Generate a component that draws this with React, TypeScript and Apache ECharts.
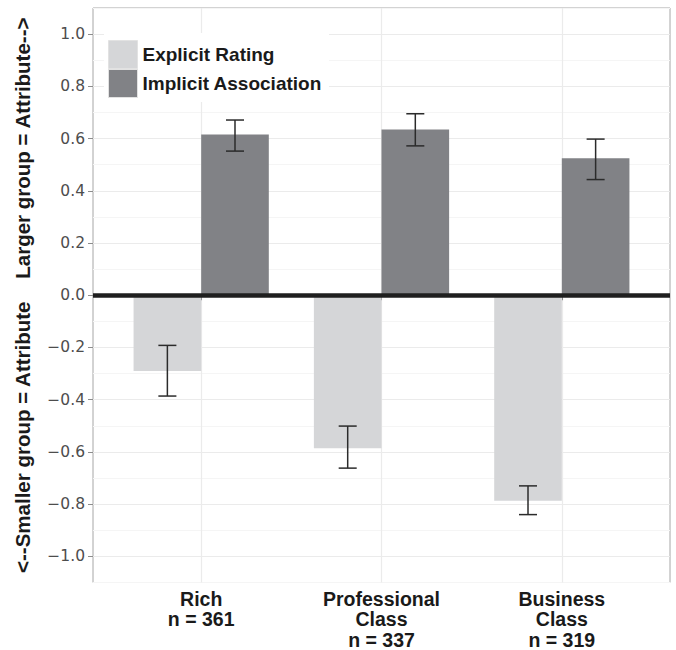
import React, { useEffect, useRef } from "react";
import * as echarts from "echarts";

// Group labels along the x axis, positioned at 1, 2, 3
const categories = ["Rich\nn = 361", "Professional\nClass\nn = 337", "Business\nClass\nn = 319"];
const positions = [1, 2, 3];

// Explicit rating: means with error bar bounds
const explicitMean = [-0.29, -0.586, -0.787];
const explicitLow = [-0.386, -0.662, -0.84];
const explicitHigh = [-0.192, -0.501, -0.73];

// Implicit association: means with error bar bounds
const implicitMean = [0.616, 0.635, 0.525];
const implicitLow = [0.552, 0.572, 0.443];
const implicitHigh = [0.671, 0.695, 0.598];

const seriesNames = ["Explicit Rating", "Implicit Association"];

const LIGHT = "#d5d6d8";
const DARK = "#818286";
const DODGE = 0.75; // total dodge width in category units
const CAP = 0.1; // error bar cap width in category units

function errorBars(low: number[], high: number[], shift: number) {
  return {
    type: "custom",
    silent: true,
    z: 4,
    data: positions.map((p, i) => [p, low[i], high[i]]),
    encode: { x: 0, y: [1, 2] },
    renderItem: (_params: any, api: any) => {
      const x = api.value(0) + shift;
      const top = api.coord([x, api.value(2)]);
      const bot = api.coord([x, api.value(1)]);
      const half = api.size([CAP, 0])[0] / 2;
      const style = { stroke: "#2b2b2b", lineWidth: 1.5 };
      return {
        type: "group",
        children: [
          { type: "line", shape: { x1: top[0], y1: top[1], x2: bot[0], y2: bot[1] }, style },
          { type: "line", shape: { x1: top[0] - half, y1: top[1], x2: top[0] + half, y2: top[1] }, style },
          { type: "line", shape: { x1: bot[0] - half, y1: bot[1], x2: bot[0] + half, y2: bot[1] }, style },
        ],
      };
    },
  };
}

const fmtY = (v: number) => {
  const r = Math.round(v * 10) / 10;
  if (r === 0) return "0.0";
  return (r < 0 ? "\u2212" : "") + Math.abs(r).toFixed(1);
};

export default function App() {
  const ref = useRef<HTMLDivElement>(null);

  useEffect(() => {
    document.body.style.margin = "0";
    if (!ref.current) return;
    const chart = echarts.init(ref.current, undefined, { renderer: "svg" });
    chart.setOption({
      animation: false,
      backgroundColor: "#ffffff",
      textStyle: { fontFamily: "Liberation Sans, Arial, sans-serif" },
      grid: {
        left: 93,
        right: 6,
        top: 8,
        bottom: 65,
        show: true,
        borderColor: "#a6a6a6",
        borderWidth: 1,
        backgroundColor: "transparent",
      },
      legend: {
        data: seriesNames,
        orient: "vertical",
        left: 104,
        top: 33,
        padding: [7, 7, 4, 4],
        backgroundColor: "#ffffff",
        itemWidth: 29,
        itemHeight: 28,
        itemGap: 0,
        icon: "rect",
        selectedMode: false,
        textStyle: {
          fontSize: 19,
          fontWeight: "bold",
          color: "#1a1a1a",
          fontFamily: "Liberation Sans, Arial, sans-serif",
        },
        itemStyle: { borderColor: "#e2e2e2", borderWidth: 1 },
      },
      xAxis: {
        type: "value",
        min: 0.4,
        max: 3.6,
        axisLine: { show: false },
        axisTick: {
          show: true,
          customValues: positions,
          length: 5,
          lineStyle: { color: "#8c8c8c" },
        },
        axisLabel: {
          customValues: positions,
          formatter: (v: number) => categories[Math.round(v) - 1] ?? "",
          fontSize: 19.5,
          fontWeight: "bold",
          color: "#1a1a1a",
          lineHeight: 20.5,
          margin: 6,
          fontFamily: "Liberation Sans, Arial, sans-serif",
        },
        splitLine: { show: true, lineStyle: { color: "#ebebeb", width: 1.2 } },
      },
      yAxis: [
        {
          type: "value",
          min: -1.1,
          max: 1.1,
          splitNumber: 11,
          name: "<--Smaller group = Attribute    Larger group = Attribute-->",
          nameLocation: "middle",
          nameGap: 60,
          nameTextStyle: {
            fontSize: 20.5,
            fontWeight: "bold",
            color: "#1a1a1a",
            fontFamily: "Liberation Sans, Arial, sans-serif",
          },
          axisLine: { show: false },
          axisTick: { show: true, length: 5, lineStyle: { color: "#8c8c8c" } },
          axisLabel: {
            showMinLabel: false,
            showMaxLabel: false,
            formatter: fmtY,
            fontSize: 15.5,
            color: "#4d4d4d",
            margin: 8,
            fontFamily: "DejaVu Sans, sans-serif",
          },
          splitLine: { show: true, lineStyle: { color: "#ebebeb", width: 1.2 } },
        },
        {
          // odd tenths: lighter secondary gridlines
          type: "value",
          min: -1.1,
          max: 1.1,
          interval: 0.2,
          axisLine: { show: false },
          axisTick: { show: false },
          axisLabel: { show: false },
          splitLine: { show: true, lineStyle: { color: "#f5f5f5", width: 1 } },
        },
      ],
      series: [
        {
          name: seriesNames[0],
          type: "bar",
          barWidth: `${(DODGE / 2) * 100}%`,
          barGap: "0%",
          itemStyle: { color: LIGHT },
          data: positions.map((p, i) => [p, explicitMean[i]]),
        },
        {
          name: seriesNames[1],
          type: "bar",
          barWidth: `${(DODGE / 2) * 100}%`,
          barGap: "0%",
          itemStyle: { color: DARK },
          data: positions.map((p, i) => [p, implicitMean[i]]),
          markLine: {
            silent: true,
            symbol: ["none", "none"],
            label: { show: false },
            lineStyle: { color: "#1f1f1f", width: 4.5, type: "solid" },
            data: [{ yAxis: 0 }],
          },
        },
        errorBars(explicitLow, explicitHigh, -DODGE / 4),
        errorBars(implicitLow, implicitHigh, DODGE / 4),
      ],
    });
    return () => chart.dispose();
  }, []);

  return (
    <div
      ref={ref}
      style={{ position: "absolute", left: 0, top: 0, width: 676, height: 650 }}
    />
  );
}
